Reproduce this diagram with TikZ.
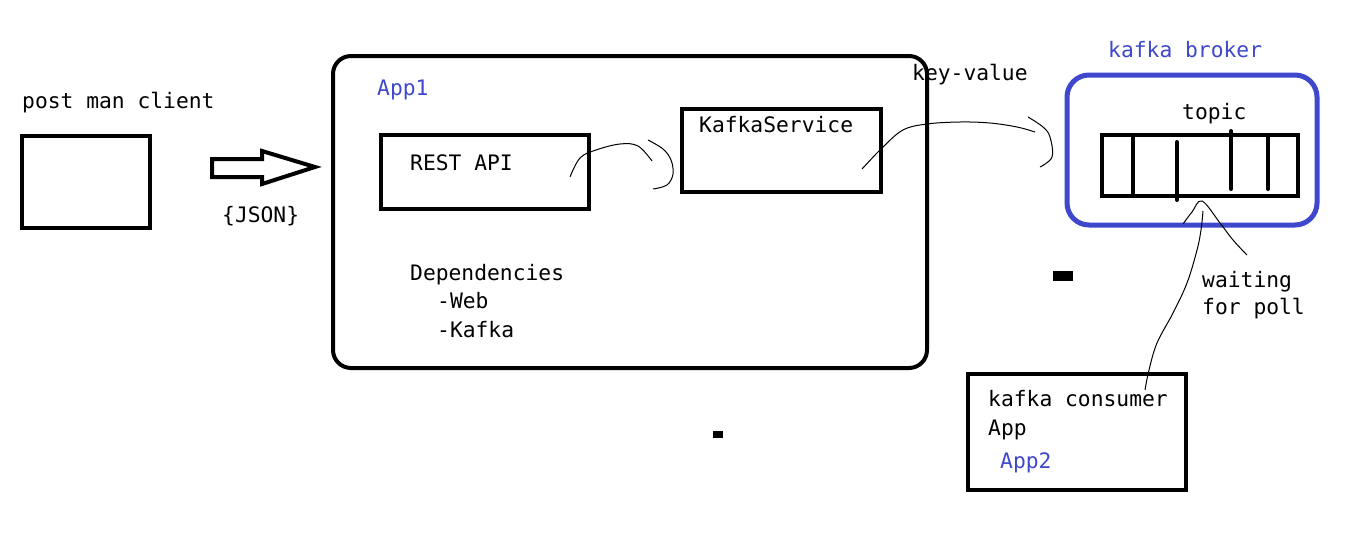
\documentclass[tikz,border=0pt]{standalone}
\usepackage{fontspec}
\setmonofont{DejaVu Sans Mono}
\usetikzlibrary{arrows}
\definecolor{paintblue}{RGB}{63,72,204}

\begin{document}
\begin{tikzpicture}[x=1pt, y=-1pt,
        box/.style 2 args={draw, line width=4pt, minimum width=#1, minimum height=#2, inner sep=0pt},
        lbl/.style={anchor=base west, inner sep=0pt, font=\ttfamily\fontsize{21.3}{25}\selectfont},
        pen/.style={line width=1pt, smooth, tension=0.6},
        divider/.style={line width=4pt, line cap=round}]
        \fill[white] (0,0) rectangle (1349,544);
        \useasboundingbox (0,0) rectangle (1349,544);

        \node[box={128}{92}] (client) at (86,182) {};
        \node[lbl] (clientlbl) at (22,108) {post man client};
        \draw[line width=4pt, line join=miter] (212,159) -- (262,159) -- (262,151) -- (315,167) -- (262,184) -- (262,177) -- (212,177) -- cycle;
        \node[lbl] (json) at (222,222) {\{JSON\}};

        \node[box={594}{312}, rounded corners=18pt] (app1) at (630,212) {};
        \node[lbl, text=paintblue] (app1lbl) at (377,95) {App1};
        \node[box={208}{74}] (restapi) at (485,172) {};
        \node[lbl] (restlbl) at (410,170) {REST API};
        \node[box={199}{83}] (kafkaservice) at (781.5,150.5) {};
        \node[lbl] (kslbl) at (699,132) {KafkaService};
        \node[lbl] (deps) at (410,280) {Dependencies};
        \node[lbl] (web) at (437,308) {-Web};
        \node[lbl] (kafkadep) at (437,337) {-Kafka};

        \node[lbl] (kv) at (912,80) {key-value};

        \node[box={250}{150}, draw=paintblue, line width=5pt, rounded corners=22pt] (broker) at (1192,150) {};
        \node[lbl, text=paintblue] (brokerlbl) at (1108,57) {kafka broker};
        \node[lbl] (topiclbl) at (1182,119) {topic};
        \node[box={196}{61}] (topic) at (1200,165.5) {};
        \draw[divider] (1133,135) -- (1133,196);
        \draw[divider] (1177,142) -- (1177,200);
        \draw[divider] (1231,131) -- (1231,189);
        \draw[divider] (1268,135) -- (1268,189);

        \node[lbl] (waiting) at (1202,287) {waiting};
        \node[lbl] (forpoll) at (1202,314) {for poll};

        \node[box={218}{116}] (consumer) at (1077,432) {};
        \node[lbl] (consumerlbl) at (988,406) {kafka consumer};
        \node[lbl] (applbl) at (988,435) {App};
        \node[lbl, text=paintblue] (app2lbl) at (1000,468) {App2};

        % hand drawn strokes
        \coordinate (restout) at (570,177);
        \coordinate (ksout) at (862,169);
        \coordinate (topicin) at (1203,211);
        \coordinate (consumerin) at (1145,390);
        \draw[pen] plot coordinates {(restout) (580,158) (596,150) (620,144) (638,146) (652,161)};
        \draw[pen] plot coordinates {(648,140) (663,149) (671,160) (673,174) (667,185) (653,189)};
        \draw[pen] plot coordinates {(ksout) (882,148) (903,130) (927,124) (960,122) (990,123) (1017,127) (1035,132)};
        \draw[pen] plot coordinates {(1028,117) (1043,127) (1050,137) (1052,157) (1040,167)};
        \draw[pen] plot coordinates {(1183,224) (1192,212) (1202,201) (1220,223) (1233,240) (1247,255)};
        \draw[pen] plot coordinates {(topicin) (1201,230) (1197,250) (1187,283) (1173,313) (1157,343) (1149,370) (consumerin)};

        \fill (1053,271) rectangle (1073,281);
        \fill (713,431) rectangle (723,438);
\end{tikzpicture}
\end{document}
